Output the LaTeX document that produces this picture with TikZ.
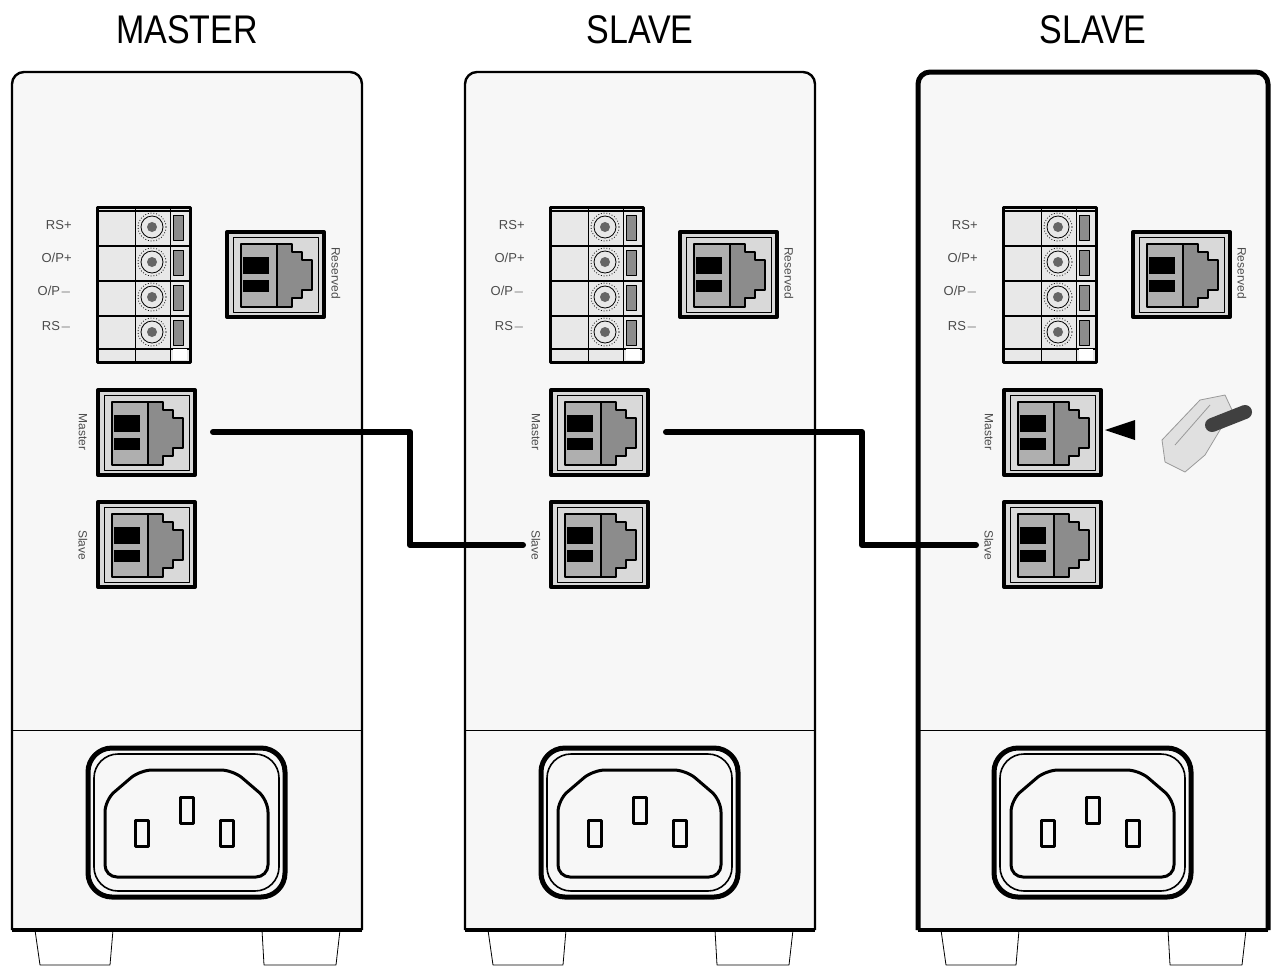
\documentclass[tikz,border=0pt]{standalone}
\usepackage{fontspec}
\setmainfont{Liberation Sans}
\usetikzlibrary{positioning}
\definecolor{panel}{gray}{0.97}
\definecolor{jackbg}{gray}{0.85}
\definecolor{jackmid}{gray}{0.55}
\tikzset{
  unitbox/.style={line width=1.2pt,rounded corners=6pt,fill=panel},
  title/.style={font=\fontsize{20}{22}\selectfont,xscale=0.85},
  portlabel/.style={font=\fontsize{6}{7}\selectfont,text=black!70,rotate=-90,inner sep=0pt},
  pinlabel/.style={font=\fontsize{6.5}{8}\selectfont,text=black!70,anchor=east,inner sep=0pt},
  cable/.style={line width=3pt,line cap=round},
  pics/jack/.style={code={
    \draw[line width=2pt,fill=jackbg] (0,0) rectangle (97,85);
    \draw[line width=0.4pt] (6,5) rectangle (91,80);
    \draw[line width=1pt,fill=jackmid!70] (14,12) rectangle (50,75);
    \draw[line width=1pt,fill=jackmid] (50,12) -- (65,12) -- (65,20) -- (75,20) -- (75,28) -- (85,28)
      -- (85,58) -- (75,58) -- (75,66) -- (65,66) -- (65,75) -- (50,75) -- cycle;
    \fill (16,25) rectangle (42,42);
    \fill (16,48) rectangle (42,60);
  }},
  pics/terminal/.style={code={
    \draw[line width=1.5pt,fill=jackbg!60] (0,0) rectangle (93,155);
    \foreach \r in {0,1,2,3} {
      \draw[line width=0.8pt] (0,{4+35*\r}) -- (93,{4+35*\r});
      \draw (55,{20+35*\r}) circle [radius=11];
      \draw[densely dotted] (55,{20+35*\r}) circle [radius=14];
      \fill[black!60] (55,{20+35*\r}) circle [radius=5];
      \draw[fill=jackmid] (76,{8+35*\r}) rectangle (86,{33+35*\r});
    }
    \draw[line width=0.8pt] (0,142) -- (93,142);
    \draw (38,0) -- (38,155);
    \draw (73,0) -- (73,155);
    \fill[white] (76,142) rectangle (90,153);
  }}
}
\begin{document}
\begin{tikzpicture}[x=0.5pt,y=-0.5pt,line join=round]
\useasboundingbox (0,0) rectangle (1279,970);
\foreach \i/\dx/\name in {1/0/MASTER,2/453/SLAVE,3/906/SLAVE} {
\begin{scope}[xshift=\dx*0.5pt]
  \node[title] (t\i) at (187,30) {\name};
  % housing, power section and feet
  \draw[unitbox] (12,930) -- (12,72) -- (362,72) -- (362,930);
  \draw[line width=2pt] (12,930) -- (362,930);
  \draw (12,730) -- (362,730);
  \draw (35,930) -- (40,965) -- (110,965) -- (113,930);
  \draw (262,930) -- (264,965) -- (336,965) -- (340,930);
  \draw[line width=2.5pt,rounded corners=12pt] (88,748) rectangle (285,897);
  \draw[line width=0.8pt,rounded corners=12pt] (94,754) rectangle (279,891);
  \draw[line width=1.5pt,rounded corners=6pt] (105,877) -- (105,800) -- (140,770) -- (233,770) -- (268,800) -- (268,877) -- cycle;
  \foreach \px/\py in {135/820,180/797,220/820} {
    \draw[line width=1.5pt] (\px,\py) rectangle ++(13,26);
  }
  % connectors
  \pic at (97,207) {terminal};
  \node[pinlabel] (rsp\i) at (72,225) {RS+};
  \node[pinlabel] (opp\i) at (72,258) {O/P+};
  \node[pinlabel] (opm\i) at (72,292) {O/P$-$};
  \node[pinlabel] (rsm\i) at (72,327) {RS$-$};
  \pic at (227,232) {jack};
  \node[portlabel] (res\i) at (336,273) {Reserved};
  \pic at (98,390) {jack};
  \node[portlabel] (mlab\i) at (83,432) {Master};
  \pic at (98,502) {jack};
  \node[portlabel] (slab\i) at (83,545) {Slave};
  \coordinate (mj\i) at (213,432);
  \coordinate (sj\i) at (70,545);
\end{scope}
}
\draw[line width=2.5pt,rounded corners=6pt] (918,930) -- (918,72) -- (1268,72) -- (1268,930);
% link cables
\draw[cable] (mj1) -| (410,545) -- (sj2);
\draw[cable] (mj2) -| (862,545) -- (sj3);
% plug for the last unit
\coordinate (plugtip) at (1105,430);
\fill (plugtip) -- ++(30,-10) -- ++(0,20) -- cycle;
\draw[black!40,fill=black!12] (1162,440) -- (1200,400) -- (1225,395) -- (1232,410) -- (1205,455) -- (1185,472) -- (1165,462) -- cycle;
\draw[black!40] (1175,445) -- (1210,405);
\draw[line width=7pt,line cap=round,black!75] (1212,425) -- (1245,412);
\end{tikzpicture}
\end{document}
